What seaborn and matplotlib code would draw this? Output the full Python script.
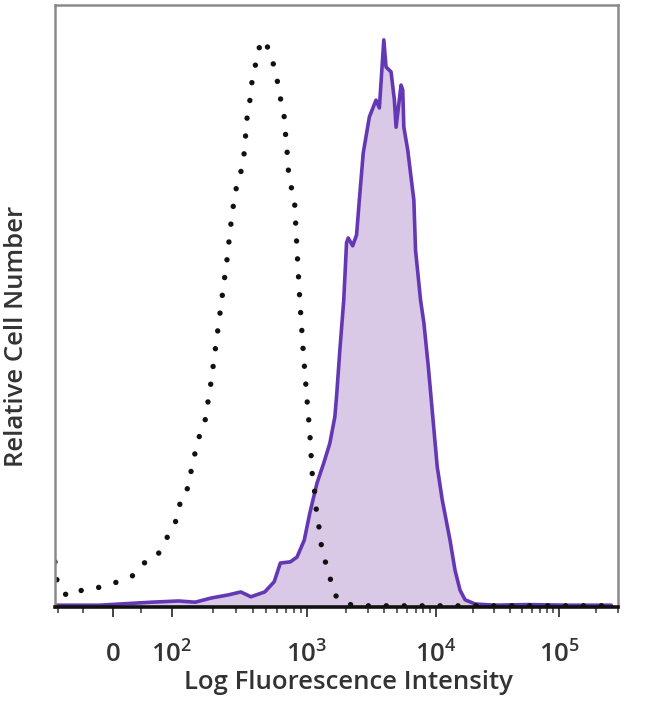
import numpy as np
import pandas as pd
import matplotlib
matplotlib.use('Agg')
import matplotlib.pyplot as plt
import seaborn as sns

# display channel (0-1000 on a biexponential scale) vs relative count
control_channel = [0, 4, 14, 30, 48, 71, 92, 115, 142, 160, 183, 195, 210, 222, 226, 240, 245,
                   252, 261, 270, 275, 281, 288, 295, 302, 309, 316, 323, 329, 337, 341, 343,
                   346, 352, 355, 364, 369, 375, 385, 394, 400, 405, 412, 414, 417, 419, 423,
                   430, 435, 440, 446, 453, 458, 460, 462, 466, 469, 474, 478, 485, 494, 501,
                   515, 542, 600, 700, 800, 900, 1000]
control_count = [7.5, 4.0, 2.3, 1.7, 2.8, 3.0, 3.7, 4.2, 5.3, 7.3, 8.3, 10.6, 12.8, 15.3, 18.3,
                 19.9, 22.8, 25.7, 28.9, 31.1, 34.1, 37.7, 42.7, 47.7, 52.7, 57.6, 63.5, 68.4,
                 70.9, 73.1, 76.2, 78.9, 82.1, 85.0, 88.4, 91.2, 93.9, 94.2, 92.5, 89.7, 87.2,
                 84.6, 81.4, 78.9, 75.9, 72.9, 70.1, 68.4, 59.3, 51.0, 42.7, 34.4, 28.9, 25.7,
                 22.4, 19.8, 16.6, 13.6, 10.6, 7.8, 5.0, 2.3, 0.7, 0.2, 0.2, 0.2, 0.2, 0.2, 0.2]

stained_channel = [0, 80, 174, 222, 252, 281, 311, 334, 352, 377, 394, 405, 423, 435, 448, 458,
                   471, 483, 494, 503, 506, 512, 519, 524, 527, 535, 542, 547, 554, 565, 577,
                   583, 591, 595, 604, 610, 613, 622, 625, 627, 634, 639, 645, 648, 657, 663,
                   671, 679, 687, 696, 710, 719, 728, 737, 755, 790, 850, 920, 1000]
stained_count = [0.3, 0.3, 0.8, 1.0, 0.8, 1.5, 2.0, 2.5, 1.7, 2.5, 4.2, 7.3, 7.5, 8.3, 11.1,
                 15.6, 20.6, 23.9, 27.2, 31.6, 34.9, 42.7, 51.0, 60.5, 61.3, 60.0, 61.8, 67.6,
                 75.4, 81.4, 84.2, 82.9, 94.2, 89.7, 88.9, 84.2, 79.7, 86.7, 85.9, 79.7, 75.9,
                 72.1, 67.6, 59.3, 51.0, 47.2, 39.9, 31.6, 23.3, 17.8, 11.1, 6.1, 2.8, 1.2, 0.5,
                 0.3, 0.4, 0.3, 0.3]

tick_channels = [104, 210, 453, 684, 906]
tick_labels = ['0', r'$\mathregular{10^{2}}$', r'$\mathregular{10^{3}}$',
               r'$\mathregular{10^{4}}$', r'$\mathregular{10^{5}}$']

control = pd.DataFrame({'channel': control_channel, 'count': control_count})
stained = pd.DataFrame({'channel': stained_channel, 'count': stained_count})

sns.set_theme(style='white')
plt.rcParams['font.family'] = ['Open Sans', 'DejaVu Sans']
plt.rcParams['mathtext.fontset'] = 'custom'
plt.rcParams['mathtext.rm'] = 'Open Sans:semibold'

fig = plt.figure(figsize=(6.5, 7.04), dpi=100)
ax = fig.add_axes([55 / 650, 97 / 704, 563 / 650, 602 / 704])

purple = '#6438b4'
ax.fill_between(stained['channel'], stained['count'], 0, color='#d9c8e6', lw=0)
sns.lineplot(data=stained, x='channel', y='count', sort=False, color=purple, lw=2.6, ax=ax)
sns.lineplot(data=control, x='channel', y='count', sort=False, color='#111111', lw=3.9, ax=ax,
             linestyle=(0, (0.01, 3.3)))
ax.lines[-1].set_dash_capstyle('round')

ax.set_xlim(0, 1000)
ax.set_ylim(0, 100)
ax.set_yticks([])

# major ticks + biexponential minor ticks
ax.set_xticks(tick_channels)
ax.set_xticklabels(tick_labels, fontsize=18.5, color='#333333', fontweight='semibold')
minor = [5, 50, 155]
minor += list(210 + np.log10(np.arange(2, 10)) * 243)
minor += list(453 + np.log10(np.arange(2, 10)) * 231)
minor += list(684 + np.log10(np.arange(2, 10)) * 222)
minor += list(906 + np.log10(np.arange(2, 4)) * 222)
ax.set_xticks(minor, minor=True)
ax.tick_params(axis='x', which='major', direction='out', length=7, width=1.4,
               color='#444444', pad=18, bottom=True)
ax.tick_params(axis='x', which='minor', direction='out', length=4, width=1.2,
               color='#444444', bottom=True)

for side in ['left', 'top', 'right']:
    ax.spines[side].set_color('#8a8a8a')
    ax.spines[side].set_linewidth(1.8)
ax.spines['bottom'].set_color('#111111')
ax.spines['bottom'].set_linewidth(2.6)

ax.set_xlabel('Log Fluorescence Intensity', fontsize=18.5, color='#333333', fontweight='semibold')
ax.set_ylabel('Relative Cell Number', fontsize=18.5, color='#333333', fontweight='semibold')
ax.xaxis.set_label_coords(0.522, -0.105)
ax.yaxis.set_label_coords(-0.047, 0.45)

plt.savefig('out.png', dpi=100)
